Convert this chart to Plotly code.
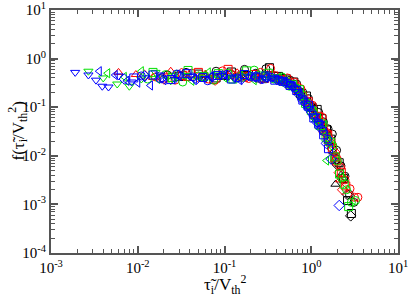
import plotly.graph_objects as go

# ---- data ----
black_circle_x = [0.022, 0.036, 0.055, 0.08, 0.12, 0.17, 0.23, 0.3, 0.38, 0.47, 0.57, 0.68, 0.8, 0.93, 1.07, 1.22, 1.38, 1.56, 1.75, 1.96, 2.2, 2.45, 2.75, 3.1]
black_circle_y = [0.46, 0.52, 0.41, 0.55, 0.47, 0.60, 0.50, 0.62, 0.44, 0.40, 0.36, 0.30, 0.20, 0.15, 0.095, 0.078, 0.05, 0.036, 0.028, 0.013, 0.0062, 0.0038, 0.0016, 0.0011]

black_square_x = [0.03, 0.05, 0.08, 0.12, 0.18, 0.25, 0.33, 0.42, 0.52, 0.63, 0.75, 0.88, 1.02, 1.17, 1.33, 1.5, 1.68, 1.88, 2.1, 2.35, 2.62, 2.9]
black_square_y = [0.43, 0.48, 0.40, 0.53, 0.45, 0.40, 0.65, 0.43, 0.38, 0.33, 0.19, 0.17, 0.10, 0.09, 0.058, 0.034, 0.022, 0.0085, 0.0072, 0.0034, 0.0012, 0.00065]

black_tri_x = [0.06, 0.1, 0.16, 0.24, 0.34, 0.45, 0.58, 0.72, 0.87, 1.03, 1.2, 1.38, 1.58, 1.8, 1.9, 2.2]
black_tri_y = [0.45, 0.41, 0.50, 0.42, 0.46, 0.36, 0.31, 0.21, 0.14, 0.09, 0.055, 0.038, 0.02, 0.012, 0.0026, 0.004]

black_diamond_x = [0.15, 0.3, 0.5, 0.7, 0.9, 1.1, 1.3, 1.5, 1.75, 2.0, 2.3, 2.6, 2.85]
black_diamond_y = [0.44, 0.40, 0.35, 0.23, 0.12, 0.07, 0.042, 0.028, 0.014, 0.0065, 0.0033, 0.0016, 0.00058]

red_circle_x = [0.016, 0.027, 0.042, 0.065, 0.095, 0.14, 0.19, 0.26, 0.34, 0.43, 0.53, 0.64, 0.76, 0.89, 1.03, 1.18, 1.34, 1.52, 1.72, 1.94, 2.18, 2.45, 2.8, 3.15, 3.45]
red_circle_y = [0.42, 0.36, 0.50, 0.38, 0.56, 0.44, 0.39, 0.52, 0.63, 0.35, 0.40, 0.33, 0.24, 0.12, 0.11, 0.058, 0.062, 0.030, 0.018, 0.0095, 0.0058, 0.0032, 0.0021, 0.0014, 0.0014]

red_square_x = [0.02, 0.033, 0.05, 0.075, 0.11, 0.16, 0.22, 0.29, 0.37, 0.46, 0.56, 0.67, 0.79, 0.92, 1.06, 1.21, 1.37, 1.55, 1.75, 1.97, 2.22, 2.5]
red_square_y = [0.40, 0.45, 0.52, 0.37, 0.60, 0.42, 0.47, 0.39, 0.44, 0.37, 0.30, 0.26, 0.17, 0.13, 0.075, 0.065, 0.036, 0.027, 0.014, 0.0078, 0.0046, 0.0024]

red_tri_x = [0.006, 0.0095, 0.015, 0.024, 0.038, 0.06, 0.09, 0.14, 0.2, 0.28, 0.37, 0.47, 0.58, 0.7, 0.83, 0.97, 1.12, 1.28, 1.45, 1.65, 1.88, 2.15]
red_tri_y = [0.52, 0.47, 0.41, 0.55, 0.39, 0.48, 0.43, 0.51, 0.40, 0.45, 0.39, 0.33, 0.32, 0.20, 0.15, 0.10, 0.064, 0.050, 0.030, 0.018, 0.0085, 0.0032]

red_diamond_x = [0.012, 0.02, 0.032, 0.05, 0.078, 0.12, 0.18, 0.26, 0.35, 0.45, 0.56, 0.68, 0.81, 0.95, 1.1, 1.26, 1.44, 1.64, 1.86, 2.1, 2.3]
red_diamond_y = [0.45, 0.38, 0.50, 0.41, 0.36, 0.48, 0.42, 0.39, 0.44, 0.36, 0.32, 0.23, 0.17, 0.12, 0.07, 0.055, 0.03, 0.022, 0.012, 0.0045, 0.0020]

green_circle_x = [0.013, 0.021, 0.033, 0.05, 0.075, 0.11, 0.16, 0.22, 0.29, 0.37, 0.46, 0.56, 0.67, 0.79, 0.92, 1.06, 1.21, 1.38, 1.57, 1.78, 2.0, 2.25, 2.55, 2.9, 3.25]
green_circle_y = [0.38, 0.47, 0.33, 0.44, 0.36, 0.50, 0.41, 0.58, 0.45, 0.38, 0.42, 0.27, 0.25, 0.18, 0.10, 0.082, 0.041, 0.046, 0.021, 0.016, 0.0078, 0.0035, 0.0020, 0.0011, 0.0012]

green_square_x = [0.015, 0.025, 0.038, 0.058, 0.085, 0.125, 0.18, 0.25, 0.32, 0.41, 0.51, 0.61, 0.73, 0.86, 1.0, 1.15, 1.31, 1.48, 1.67, 1.88, 2.12, 2.4, 2.7]
green_square_y = [0.52, 0.41, 0.57, 0.43, 0.49, 0.38, 0.56, 0.44, 0.50, 0.39, 0.33, 0.29, 0.23, 0.12, 0.085, 0.061, 0.042, 0.024, 0.019, 0.0095, 0.0042, 0.0026, 0.0009]

green_left_x = [0.0045, 0.007, 0.011, 0.017, 0.027, 0.042, 0.065, 0.1, 0.15, 0.22, 0.31, 0.41, 0.52, 0.64, 0.77, 0.91, 1.06, 1.22, 1.4, 1.5]
green_left_y = [0.50, 0.42, 0.55, 0.38, 0.47, 0.35, 0.52, 0.41, 0.46, 0.36, 0.43, 0.35, 0.30, 0.25, 0.15, 0.105, 0.06, 0.047, 0.03, 0.008]

green_down_x = [0.0027, 0.004, 0.0058, 0.008, 0.011, 0.016, 0.024, 0.036, 0.055, 0.085, 0.13, 0.2, 0.3, 0.42, 0.55, 0.7, 0.86, 1.03, 1.2]
green_down_y = [0.55, 0.40, 0.30, 0.27, 0.38, 0.52, 0.35, 0.45, 0.40, 0.48, 0.38, 0.44, 0.39, 0.36, 0.31, 0.20, 0.13, 0.08, 0.05]

blue_circle_x = [0.011, 0.018, 0.028, 0.043, 0.064, 0.095, 0.14, 0.2, 0.27, 0.35, 0.44, 0.54, 0.65, 0.77, 0.9, 1.04, 1.2, 1.37, 1.55]
blue_circle_y = [0.44, 0.39, 0.48, 0.42, 0.35, 0.46, 0.40, 0.43, 0.37, 0.41, 0.36, 0.31, 0.24, 0.15, 0.10, 0.07, 0.048, 0.032, 0.022]

blue_square_x = [0.009, 0.015, 0.024, 0.037, 0.056, 0.083, 0.12, 0.17, 0.23, 0.3, 0.38, 0.47, 0.57, 0.68, 0.8, 0.93, 1.07, 1.22, 1.39, 1.58]
blue_square_y = [0.40, 0.46, 0.37, 0.49, 0.41, 0.45, 0.38, 0.47, 0.42, 0.44, 0.36, 0.34, 0.28, 0.22, 0.14, 0.11, 0.06, 0.045, 0.027, 0.014]

blue_down_x = [0.0019, 0.0027, 0.0033, 0.0039, 0.0046, 0.006, 0.0085, 0.012, 0.018, 0.027, 0.04, 0.06, 0.09, 0.13, 0.19, 0.27, 0.36, 0.46, 0.57, 0.69, 0.82, 0.96, 1.11, 1.27]
blue_down_y = [0.52, 0.46, 0.36, 0.27, 0.26, 0.44, 0.33, 0.40, 0.46, 0.37, 0.43, 0.39, 0.45, 0.40, 0.42, 0.38, 0.40, 0.35, 0.29, 0.21, 0.14, 0.095, 0.066, 0.046]

blue_left_x = [0.0036, 0.0055, 0.0075, 0.01, 0.014, 0.02, 0.03, 0.045, 0.07, 0.1, 0.15, 0.22, 0.3, 0.4, 0.5, 0.62, 0.74]
blue_left_y = [0.55, 0.46, 0.35, 0.32, 0.28, 0.36, 0.44, 0.38, 0.42, 0.47, 0.36, 0.41, 0.40, 0.37, 0.33, 0.27, 0.19]

blue_diamond_x = [0.007, 0.012, 0.019, 0.03, 0.047, 0.072, 0.11, 0.16, 0.23, 0.31, 0.4, 0.5, 0.61, 0.73, 0.86, 1.0, 1.15, 1.31, 1.49, 1.7, 2.1]
blue_diamond_y = [0.38, 0.44, 0.40, 0.46, 0.37, 0.42, 0.45, 0.39, 0.43, 0.41, 0.37, 0.32, 0.27, 0.18, 0.12, 0.08, 0.05, 0.036, 0.018, 0.0085, 0.00095]

x_tick_vals = [0.001, 0.01, 0.1, 1, 10]
x_tick_text = ["10<sup>-3</sup>", "10<sup>-2</sup>", "10<sup>-1</sup>", "10<sup>0</sup>", "10<sup>1</sup>"]
y_tick_vals = [0.0001, 0.001, 0.01, 0.1, 1, 10]
y_tick_text = ["10<sup>-4</sup>", "10<sup>-3</sup>", "10<sup>-2</sup>", "10<sup>-1</sup>", "10<sup>0</sup>", "10<sup>1</sup>"]
x_title = "τ̃<sub>i</sub>/V<sub>th</sub><sup>2</sup>"
y_title = "f(τ̃<sub>i</sub>/V<sub>th</sub><sup>2</sup>)"

BLACK, RED, GREEN, BLUE = "#000000", "#ff0000", "#00e000", "#0000ff"

series = [
    (black_circle_x, black_circle_y, BLACK, "circle-open"),
    (black_square_x, black_square_y, BLACK, "square-open"),
    (black_tri_x, black_tri_y, BLACK, "triangle-up-open"),
    (black_diamond_x, black_diamond_y, BLACK, "diamond-open"),
    (red_circle_x, red_circle_y, RED, "circle-open"),
    (red_square_x, red_square_y, RED, "square-open"),
    (red_tri_x, red_tri_y, RED, "triangle-up-open"),
    (red_diamond_x, red_diamond_y, RED, "diamond-open"),
    (green_circle_x, green_circle_y, GREEN, "circle-open"),
    (green_square_x, green_square_y, GREEN, "square-open"),
    (green_left_x, green_left_y, GREEN, "triangle-left-open"),
    (green_down_x, green_down_y, GREEN, "triangle-down-open"),
    (blue_circle_x, blue_circle_y, BLUE, "circle-open"),
    (blue_square_x, blue_square_y, BLUE, "square-open"),
    (blue_down_x, blue_down_y, BLUE, "triangle-down-open"),
    (blue_left_x, blue_left_y, BLUE, "triangle-left-open"),
    (blue_diamond_x, blue_diamond_y, BLUE, "diamond-open"),
]

fig = go.Figure()
for xs, ys, col, sym in series:
    fig.add_trace(go.Scatter(
        x=xs, y=ys, mode="markers",
        marker=dict(symbol=sym, size=8, color=col, line=dict(color=col, width=1)),
        showlegend=False, hoverinfo="skip",
    ))

axis_col = "#555555"
font_family = "Liberation Serif, Times New Roman, serif"
x_minor = [m * 10.0 ** e for e in range(-3, 1) for m in range(2, 10)]
y_minor = [m * 10.0 ** e for e in range(-4, 1) for m in range(2, 10)]

common = dict(
    type="log", automargin=False, ticklabeloverflow="allow",
    ticks="inside", ticklen=7, tickwidth=1.5, tickcolor=axis_col,
    showline=True, linecolor=axis_col, linewidth=2, mirror="ticks",
    showgrid=False, zeroline=False,
    tickfont=dict(family=font_family, size=15, color="#000"),
)
fig.update_xaxes(
    range=[-3, 1], tickvals=x_tick_vals, ticktext=x_tick_text,
    minor=dict(tickvals=x_minor, ticks="inside", ticklen=4, tickwidth=1, tickcolor=axis_col, showgrid=False),
    **common,
)
fig.update_yaxes(
    range=[-4, 1], tickvals=y_tick_vals, ticktext=y_tick_text,
    minor=dict(tickvals=y_minor, ticks="inside", ticklen=4, tickwidth=1, tickcolor=axis_col, showgrid=False),
    **common,
)
fig.add_annotation(
    text=x_title, xref="paper", yref="paper", x=0.5, y=0,
    xanchor="center", yanchor="middle", yshift=-31, showarrow=False,
    font=dict(family=font_family, size=17, color="#000"),
)
fig.add_annotation(
    text=y_title, xref="paper", yref="paper", x=0, y=0.5,
    xanchor="center", yanchor="middle", xshift=-33, textangle=-90, showarrow=False,
    font=dict(family=font_family, size=17, color="#000"),
)
fig.update_layout(
    width=409, height=296,
    margin=dict(l=51, r=11, t=10, b=43),
    plot_bgcolor="white", paper_bgcolor="white",
)
fig.write_html(
    "out.html",
    config={"displayModeBar": False},
    post_script="document.body.style.margin='0';document.body.style.overflow='hidden';",
)
